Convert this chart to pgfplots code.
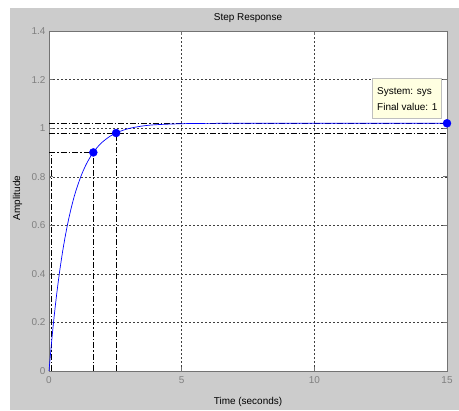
\documentclass[border=0pt]{standalone}
\usepackage{pgfplots}
\pgfplotsset{compat=1.18}
\usepackage{fontspec}
\setmainfont{Liberation Sans}
\definecolor{figgray}{RGB}{204,204,204}
\definecolor{tipfill}{RGB}{255,255,225}
\definecolor{ticklab}{RGB}{128,128,128}
\begin{document}
\begin{tikzpicture}[x=1bp,y=1bp]
\useasboundingbox (0,0) rectangle (459,410);
\fill[white] (0,0) rectangle (459,410);
\fill[figgray] (10,0) rectangle (459,402);
\begin{axis}[
  at={(49bp,39bp)}, anchor=south west,
  scale only axis, width=398bp, height=340bp,
  xmin=0, xmax=15, ymin=0, ymax=1.4,
  xtick={0,5,10,15}, ytick={0,0.2,0.4,0.6,0.8,1,1.2,1.4},
  axis background/.style={fill=white},
  grid=major,
  major grid style={black!75, line width=0.4pt, dash pattern=on 2bp off 2bp},
  axis line style={black!55, line width=0.6pt},
  tick style={black!55, line width=0.5pt},
  tick align=inside, major tick length=4bp,
  /pgf/number format/assume math mode=true,
  ticklabel style={font=\fontsize{10}{12}\selectfont, text=ticklab},
  xticklabel style={yshift=-2bp},
  clip=false,
]
% reference lines (dash-dot)
\addplot[black, line width=0.6pt, dash pattern=on 6bp off 2bp on 1.5bp off 2bp] coordinates {(0,1.02) (15,1.02)};
\addplot[black, line width=0.6pt, dash pattern=on 6bp off 2bp on 1.5bp off 2bp] coordinates {(0,0.98) (15,0.98)};
\addplot[black, line width=0.6pt, dash pattern=on 6bp off 2bp on 1.5bp off 2bp] coordinates {(0,0.9) (1.67,0.9)};
\addplot[black, line width=0.6pt, dash pattern=on 6bp off 2bp on 1.5bp off 2bp] coordinates {(1.67,0) (1.67,0.9)};
\addplot[black, line width=0.6pt, dash pattern=on 6bp off 2bp on 1.5bp off 2bp] coordinates {(2.53,0) (2.53,0.98)};
\addplot[black, line width=0.6pt, dash pattern=on 6bp off 2bp on 1.5bp off 2bp] coordinates {(0.08,0) (0.08,0.9)};
% step response
\addplot[blue, line width=0.7pt, smooth] coordinates {
(0,0) (0.1,0.1226) (0.2,0.2307) (0.3,0.3257) (0.4,0.4092) (0.5,0.4827)
(0.6,0.5473) (0.7,0.6042) (0.8,0.6542) (0.9,0.6983) (1.0,0.7370)
(1.2,0.8010) (1.4,0.8506) (1.6,0.8888) (1.8,0.9185) (2.0,0.9415)
(2.3,0.9666) (2.6,0.9836) (3.0,0.9982) (3.5,1.0085) (4.0,1.0140)
(5.0,1.0183) (6.0,1.0196) (8.0,1.0200) (15,1.0200)};
% characteristic points
\addplot[only marks, mark=*, mark size=4bp, blue, mark options={fill=blue}] coordinates {(1.67,0.9) (2.53,0.98) (15,1.02)};
\end{axis}
\node[anchor=base, font=\fontsize{10}{12}\selectfont] at (248,389) {Step Response};
\node[anchor=base, font=\fontsize{10}{12}\selectfont] at (248,6) {Time (seconds)};
\node[anchor=base, rotate=90, font=\fontsize{10}{12}\selectfont] at (20,212) {Amplitude};
\draw[fill=tipfill, draw=black!25, line width=0.6pt] (372,292) rectangle (441,332);
\node[anchor=base west, inner sep=0pt, font=\fontsize{10}{12}\selectfont] at (377,315.5) {System: sys};
\node[anchor=base west, inner sep=0pt, font=\fontsize{10}{12}\selectfont] at (377,300) {Final value: 1};
\end{tikzpicture}
\end{document}
